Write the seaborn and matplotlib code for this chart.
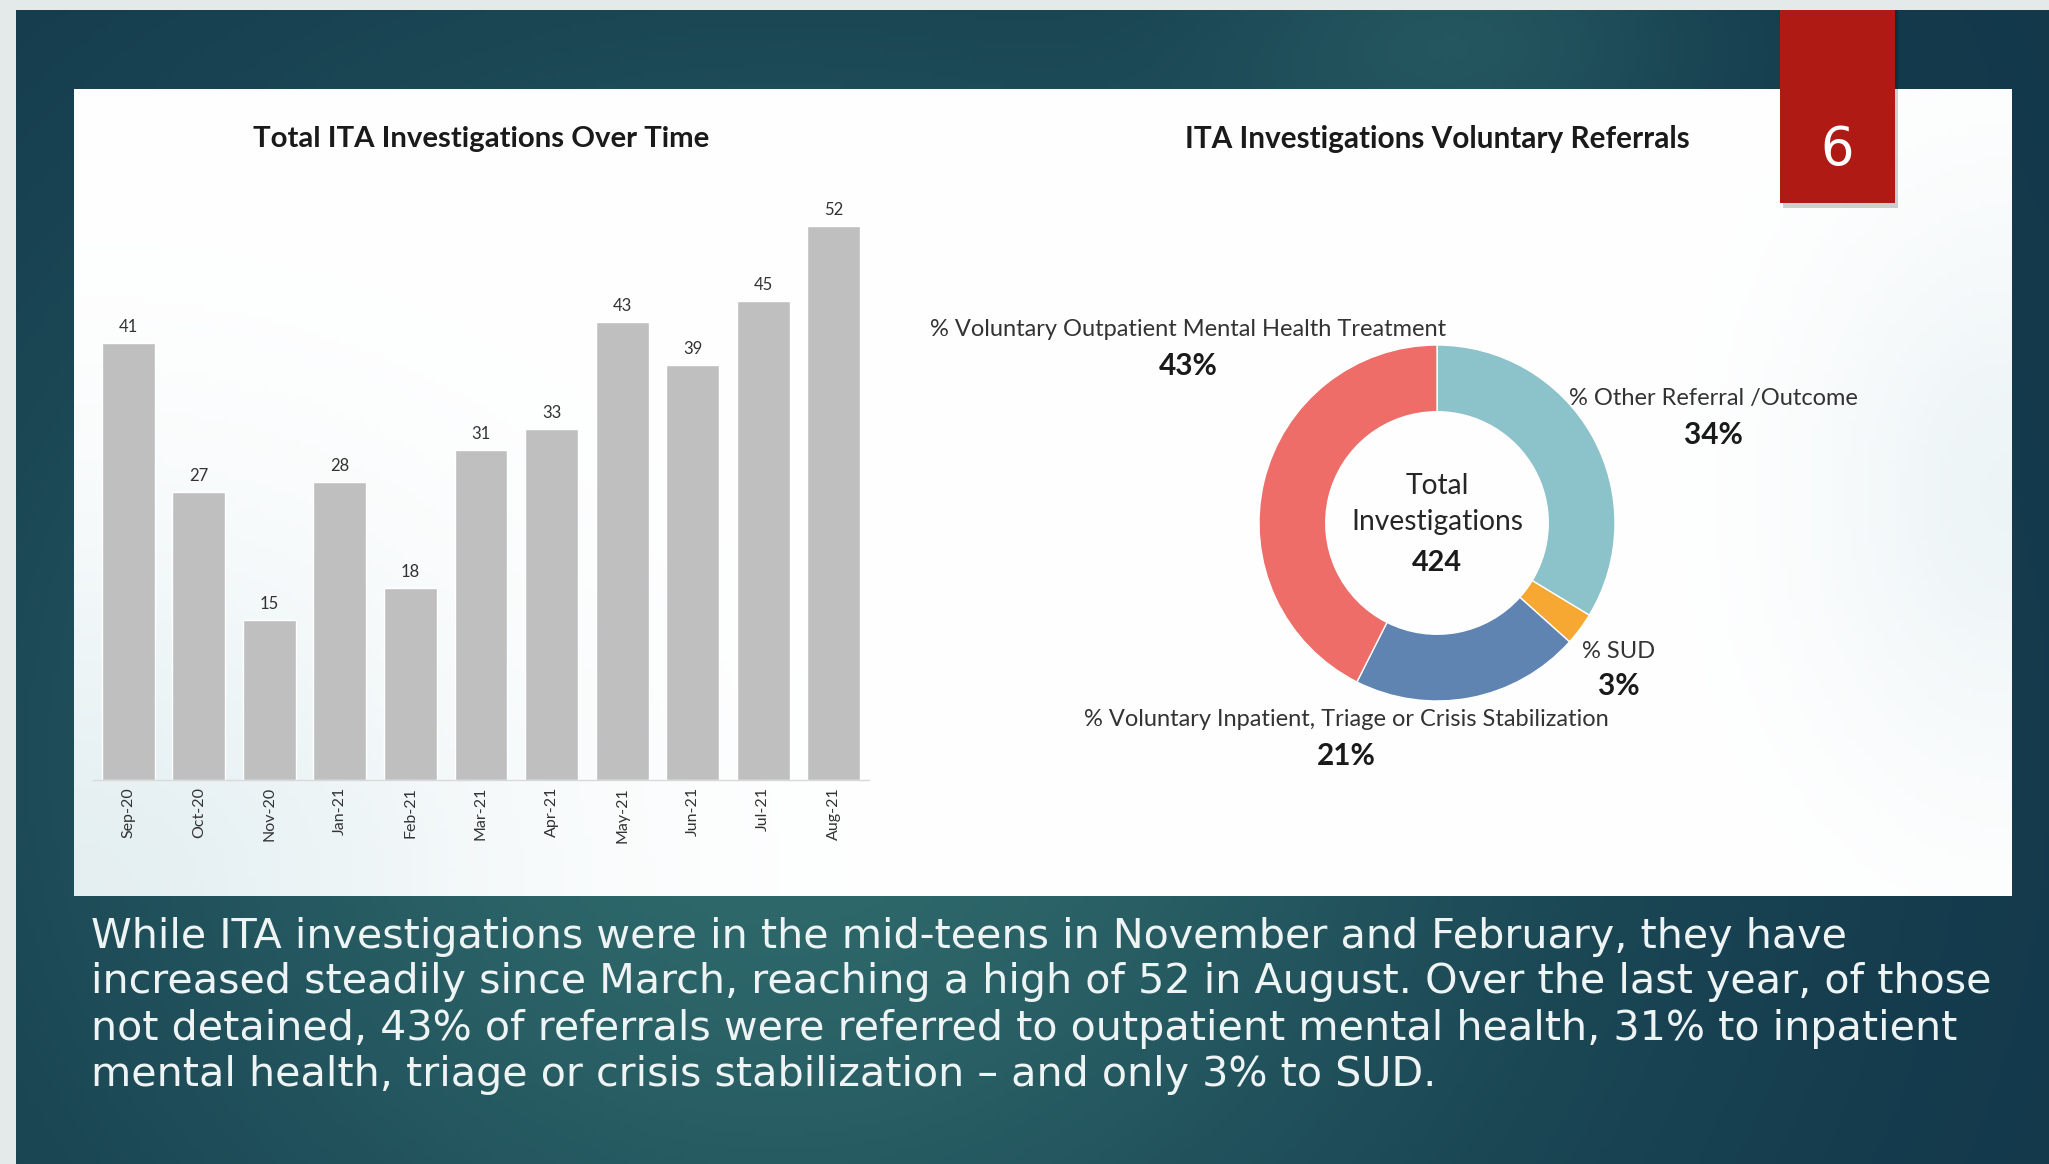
import numpy as np
import pandas as pd
import matplotlib
matplotlib.use('Agg')
import matplotlib.pyplot as plt
from matplotlib.patches import Rectangle
from matplotlib.colors import to_rgb
import seaborn as sns

# data
months = ['Sep-20', 'Oct-20', 'Nov-20', 'Jan-21', 'Feb-21', 'Mar-21',
          'Apr-21', 'May-21', 'Jun-21', 'Jul-21', 'Aug-21']
investigations = [41, 27, 15, 28, 18, 31, 33, 43, 39, 45, 52]

referral_labels = ['% Other Referral /Outcome', '% SUD',
                   '% Voluntary Inpatient, Triage or Crisis Stabilization',
                   '% Voluntary Outpatient Mental Health Treatment']
referral_pct = [34, 3, 21, 43]
referral_colors = ['#8cc2c9', '#f6a833', '#5f84b2', '#ee6d69']
total_investigations = 424

summary_lines = [
    'While ITA investigations were in the mid-teens in November and February, they have',
    'increased steadily since March, reaching a high of 52 in August. Over the last year, of those',
    'not detained, 43% of referrals were referred to outpatient mental health, 31% to inpatient',
    'mental health, triage or crisis stabilization \u2013 and only 3% to SUD.',
]

W, H = 2049, 1164


def fx(px):
    return px / W


def fy(py):
    return 1 - py / H


sns.set_theme(style='white')
plt.rcParams['font.family'] = ['Lato', 'DejaVu Sans']

fig = plt.figure(figsize=(W / 100, H / 100), dpi=100)
renderer = fig.canvas.get_renderer()


def fit_width(txt, target_px):
    # scale a text's font size so it spans target_px pixels
    wpx = txt.get_window_extent(renderer).width
    size = txt.get_fontsize() * target_px / wpx
    txt.set_fontsize(size)
    return size


# slide background
bg = fig.add_axes([0, 0, 1, 1])
u, v = np.meshgrid(np.linspace(0, 1, 420), np.linspace(0, 1, 240))
dark = np.array(to_rgb('#12374a'))
light = np.array(to_rgb('#2f6a6c'))
w = np.exp(-((u - 0.38) / 0.38) ** 2 - ((v - 0.65) / 0.6) ** 2)
w += 0.45 * np.exp(-((u - 0.72) / 0.12) ** 2 - ((v - 0.03) / 0.12) ** 2)
w = np.clip(w, 0, 1)
img = dark[None, None, :] * (1 - w[..., None]) + light[None, None, :] * w[..., None]
bg.imshow(img, extent=[0, 1, 0, 1], aspect='auto', origin='upper')

# light border strips
bg.add_patch(Rectangle((0, 0), fx(16), 1, color='#e4e9ea', lw=0))
bg.add_patch(Rectangle((0, fy(10)), 1, 1 - fy(10), color='#e4e9ea', lw=0))

# white panel with a faint cyan glow at lower left and right
pu, pv = np.meshgrid(np.linspace(0, 1, 300), np.linspace(0, 1, 120))
glow = 0.9 * np.exp(-((pu - 0.0) / 0.22) ** 2 - ((pv - 1.0) / 0.45) ** 2)
glow += 0.6 * np.exp(-((pu - 1.0) / 0.1) ** 2 - ((pv - 0.5) / 0.35) ** 2)
glow = np.clip(glow, 0, 1)
tint = np.array(to_rgb('#e2eef1'))
panel = np.ones(3)[None, None, :] * (1 - glow[..., None]) + tint[None, None, :] * glow[..., None]
bg.imshow(panel, extent=[fx(74), fx(2012), fy(896), fy(89)], aspect='auto',
          origin='upper')
bg.set_xlim(0, 1)
bg.set_ylim(0, 1)
bg.axis('off')

# red page-number box with a soft shadow
bg.add_patch(Rectangle((fx(1783), fy(208)), fx(115), (208 - 10) / H,
                       color='#000000', alpha=0.18, lw=0))
bg.add_patch(Rectangle((fx(1780), fy(203)), fx(115), (203 - 10) / H,
                       color='#b01a15', lw=0))
fig.text(fx(1837), fy(150), '6', ha='center', va='center', fontsize=38,
         color='white', family=['DejaVu Sans'])

# bar chart
ax = fig.add_axes([fx(93), fy(780), (869 - 93) / W, (780 - 141) / H])
ax.patch.set_alpha(0)
df = pd.DataFrame({'month': months, 'investigations': investigations})
sns.barplot(data=df, x='month', y='investigations', color='#bfbfbf',
            saturation=1, width=0.75, ax=ax)
for i, val in enumerate(investigations):
    ax.text(i, val + 1.5, str(val), ha='center', va='center', fontsize=12,
            color='#333333')
ax.set_ylim(0, 60)
ax.set_xlim(-0.5, len(months) - 0.5)
ax.set_xlabel('')
ax.set_ylabel('')
ax.set_yticks([])
ax.tick_params(axis='x', length=0, pad=5, labelsize=11.5, labelcolor='#333333',
               labelrotation=90)
for s in ['top', 'left', 'right']:
    ax.spines[s].set_visible(False)
ax.spines['bottom'].set_color('#d9d9d9')
ax.spines['bottom'].set_linewidth(1)

t = fig.text(fx(481), fy(139), 'Total ITA Investigations Over Time', ha='center',
             va='center', fontsize=18, fontweight='bold', color='#1a1a1a')
fit_width(t, 457)

# donut chart
cx, cy, R = 1437, 523, 178
side = 440
ax_d = fig.add_axes([fx(cx - side / 2), fy(cy + side / 2), side / W, side / H])
ax_d.pie(referral_pct, colors=referral_colors, startangle=90, counterclock=False,
         radius=1, wedgeprops=dict(width=0.375, edgecolor='white', linewidth=1))
lim = side / 2 / R
ax_d.set_xlim(-lim, lim)
ax_d.set_ylim(-lim, lim)
ax_d.set_aspect('equal')
ax_d.axis('off')

t = fig.text(fx(1437), fy(139), 'ITA Investigations Voluntary Referrals', ha='center',
             va='center', fontsize=18, fontweight='bold', color='#1a1a1a')
fit_width(t, 506)

# label positions (pixels) for each wedge: name and percent
label_pos = [(1713, 398, 435), (1619, 651, 686), (1346, 720, 756), (1188, 329, 366)]
name_texts, pct_texts = [], []
for name, pct, (lx, ly, py) in zip(referral_labels, referral_pct, label_pos):
    name_texts.append(fig.text(fx(lx), fy(ly), name, ha='center', va='center',
                               fontsize=15, color='#333333'))
    pct_texts.append(fig.text(fx(lx), fy(py), f'{pct}%', ha='center', va='center',
                              fontsize=20, fontweight='bold', color='#1a1a1a'))
name_size = fit_width(name_texts[3], 520)
pct_size = fit_width(pct_texts[3], 59)
for t in name_texts:
    t.set_fontsize(name_size)
for t in pct_texts:
    t.set_fontsize(pct_size)

t_total = fig.text(fx(cx), fy(486), 'Total', ha='center', va='center', fontsize=18,
                   color='#262626')
t_inv = fig.text(fx(cx), fy(522), 'Investigations', ha='center', va='center',
                 fontsize=18, color='#262626')
t_inv_size = fit_width(t_inv, 171)
t_total.set_fontsize(t_inv_size)
t_num = fig.text(fx(cx), fy(563), str(total_investigations), ha='center', va='center',
                 fontsize=19, fontweight='bold', color='#1a1a1a')
fit_width(t_num, 50)

# narrative text
line_y = [937, 982, 1029, 1075]
narr = []
for line, y in zip(summary_lines, line_y):
    narr.append(fig.text(fx(91), fy(y), line, ha='left', va='center', fontsize=26,
                         color='#eef3f4', family=['DejaVu Sans']))
narr_size = fit_width(narr[1], 1899)
for t in narr:
    t.set_fontsize(narr_size)

fig.savefig('out.png', dpi=100)
